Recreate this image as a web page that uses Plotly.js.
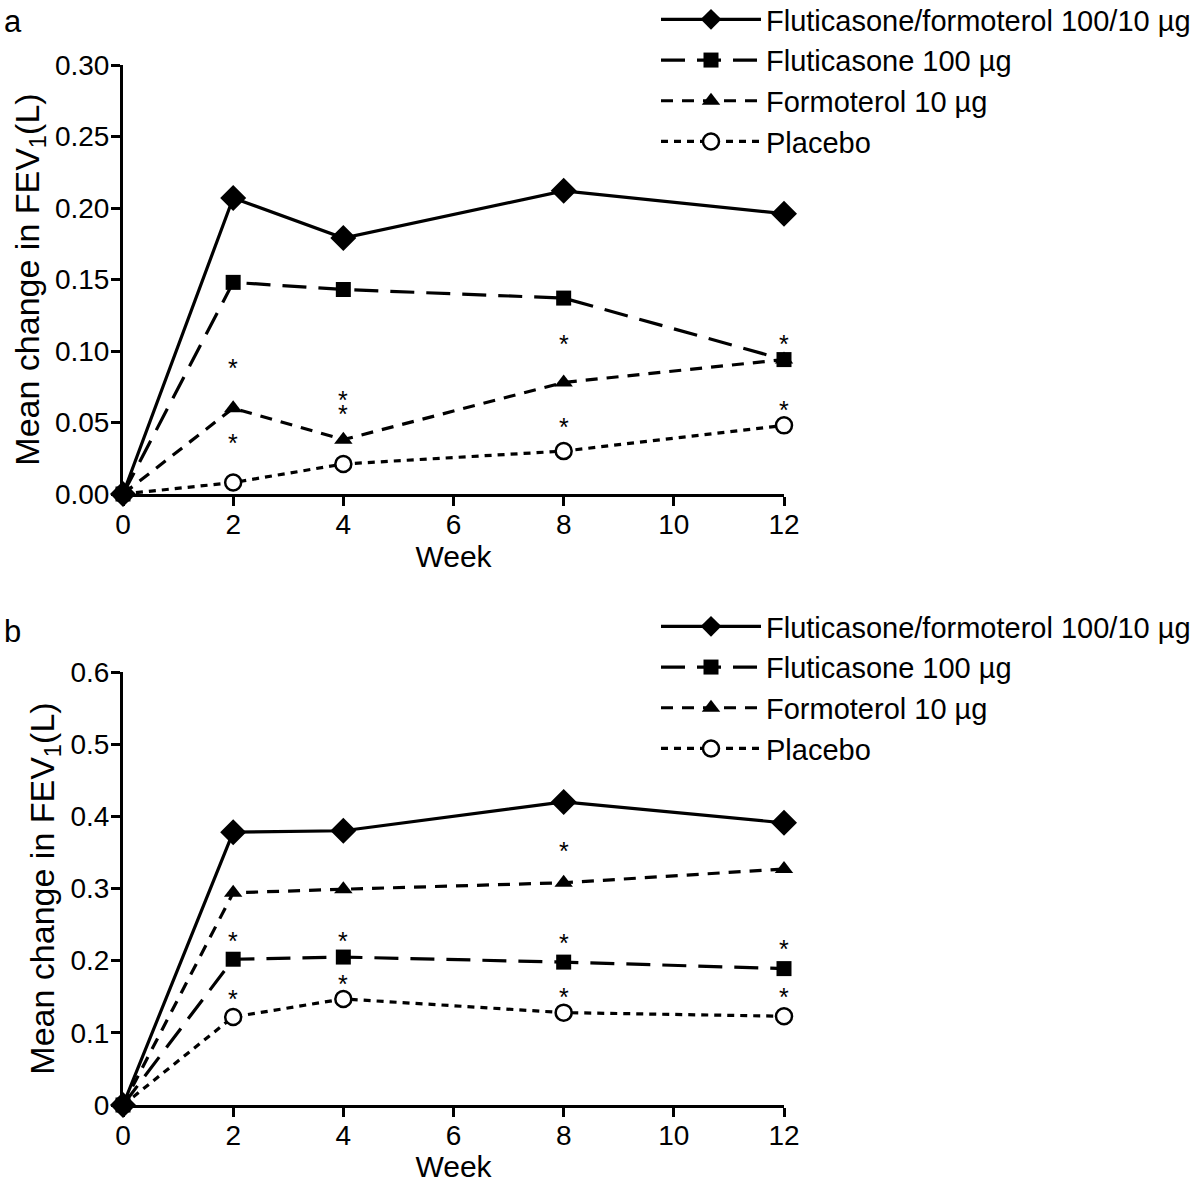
<!DOCTYPE html>
<html><head><meta charset="utf-8">
<script src="https://cdn.plot.ly/plotly-3.0.1.min.js"></script>
<style>html,body{margin:0;padding:0;background:#fff}</style>
</head><body><div id="chart" style="width:1200px;height:1183px"></div>
<script>
// ---- data ----
const weeks = [0, 2, 4, 8, 12];
const seriesNames = ['Fluticasone/formoterol 100/10 µg', 'Fluticasone 100 µg', 'Formoterol 10 µg', 'Placebo'];
const panelLabels = ['a', 'b'];
const xTitle = 'Week';
const yTitle = 'Mean change in FEV<sub>1</sub>(L)';

// Panel a
const a_fluForm = [0, 0.207, 0.179, 0.212, 0.196];
const a_flu     = [0, 0.148, 0.143, 0.137, 0.094];
const a_form    = [0, 0.060, 0.038, 0.078, 0.094];
const a_placebo = [0, 0.008, 0.021, 0.030, 0.048];
const a_starX   = [2, 2, 4, 4, 8, 8, 12, 12];
const a_starY   = [0.092, 0.040, 0.070, 0.060, 0.109, 0.051, 0.109, 0.063];

// Panel b
const b_fluForm = [0, 0.378, 0.380, 0.420, 0.391];
const b_flu     = [0, 0.202, 0.205, 0.198, 0.189];
const b_form    = [0, 0.294, 0.299, 0.308, 0.327];
const b_placebo = [0, 0.122, 0.147, 0.128, 0.123];
const b_starX   = [2, 2, 4, 4, 8, 8, 8, 12, 12];
const b_starY   = [0.235, 0.155, 0.235, 0.176, 0.360, 0.233, 0.158, 0.225, 0.158];

// ---- styles ----
const FONT = 'Liberation Sans, Arial, Helvetica, sans-serif';
const styles = [
  {dash: 'solid', symbol: 'diamond', size: 20, fill: '#000'},
  {dash: '24px,12px', symbol: 'square', size: 15, fill: '#000'},
  {dash: '12px,9px', symbol: 'triangle-up', size: 16, fill: '#000'},
  {dash: '7px,6px', symbol: 'circle', size: 16, fill: '#fff'}
];

function makeTraces(vals, xa, ya, legendId) {
  return vals.map((v, i) => ({
    x: weeks, y: v, xaxis: xa, yaxis: ya, type: 'scatter', mode: 'lines+markers',
    name: seriesNames[i], legend: legendId, cliponaxis: false,
    line: {color: '#000', width: 3.2, dash: styles[i].dash},
    marker: {symbol: styles[i].symbol, size: styles[i].size, color: styles[i].fill,
             line: {color: '#000', width: i === 3 ? 2.5 : 0}}
  })).reverse();
}

const traces = [
  ...makeTraces([a_fluForm, a_flu, a_form, a_placebo], 'x', 'y', 'legend'),
  ...makeTraces([b_fluForm, b_flu, b_form, b_placebo], 'x2', 'y2', 'legend2')
];

const starFont = {family: FONT, size: 25, color: '#000'};
const starsA = a_starX.map((x, i) => ({x: x, y: a_starY[i], xref: 'x', yref: 'y', text: '*',
  showarrow: false, font: starFont, yanchor: 'middle', yshift: -6}));
const starsB = b_starX.map((x, i) => ({x: x, y: b_starY[i], xref: 'x2', yref: 'y2', text: '*',
  showarrow: false, font: starFont, yanchor: 'middle', yshift: -6}));

const H = 1183, W = 1200;
const axisCommon = {
  showline: true, linecolor: '#000', linewidth: 3, ticks: 'outside', ticklen: 9, tickwidth: 3,
  tickcolor: '#000', showgrid: false, zeroline: false, mirror: false,
  tickfont: {family: FONT, size: 28, color: '#000'}
};
const xCommon = Object.assign({}, axisCommon, {range: [0, 12], tickvals: [0, 2, 4, 6, 8, 10, 12],
  ticklabelstandoff: -6,
  domain: [123 / W, 784 / W], title: {text: xTitle, font: {family: FONT, size: 30, color: '#000'}, standoff: 4}});
const yTitleObj = {text: yTitle, font: {family: FONT, size: 34, color: '#000'}, standoff: 6};

const legendCommon = {
  font: {family: FONT, size: 29, color: '#000'}, bgcolor: 'rgba(0,0,0,0)', borderwidth: 0,
  x: 656 / W, xanchor: 'left', yanchor: 'top', tracegroupgap: 0, traceorder: 'reversed', itemwidth: 100
};

const layout = {
  width: W, height: H, margin: {l: 0, r: 0, t: 0, b: 0, autoexpand: false},
  paper_bgcolor: '#fff', plot_bgcolor: '#fff', showlegend: true,
  xaxis: Object.assign({}, xCommon, {anchor: 'y'}),
  xaxis2: Object.assign({}, xCommon, {anchor: 'y2'}),
  yaxis: Object.assign({}, axisCommon, {anchor: 'x', range: [0, 0.30], dtick: 0.05, tickformat: '.2f',
    ticklabelstandoff: -4, domain: [1 - 494 / H, 1 - 65 / H], title: yTitleObj}),
  yaxis2: Object.assign({}, axisCommon, {anchor: 'x2', range: [0, 0.6], dtick: 0.1,
    ticklabelstandoff: -4, domain: [1 - 1105 / H, 1 - 672 / H], title: yTitleObj}),
  legend: Object.assign({}, legendCommon, {y: 1 + 6 / H}),
  legend2: Object.assign({}, legendCommon, {y: 1 - 601 / H}),
  annotations: [
    {text: panelLabels[0], xref: 'paper', yref: 'paper', x: 2 / W, y: 1 - 2 / H, xanchor: 'left', yanchor: 'top',
     showarrow: false, font: {family: FONT, size: 31, color: '#000'}},
    {text: panelLabels[1], xref: 'paper', yref: 'paper', x: 2 / W, y: 1 - 612 / H, xanchor: 'left', yanchor: 'top',
     showarrow: false, font: {family: FONT, size: 31, color: '#000'}},
    ...starsA, ...starsB
  ]
};

Plotly.newPlot('chart', traces, layout, {staticPlot: true});
</script></body></html>
